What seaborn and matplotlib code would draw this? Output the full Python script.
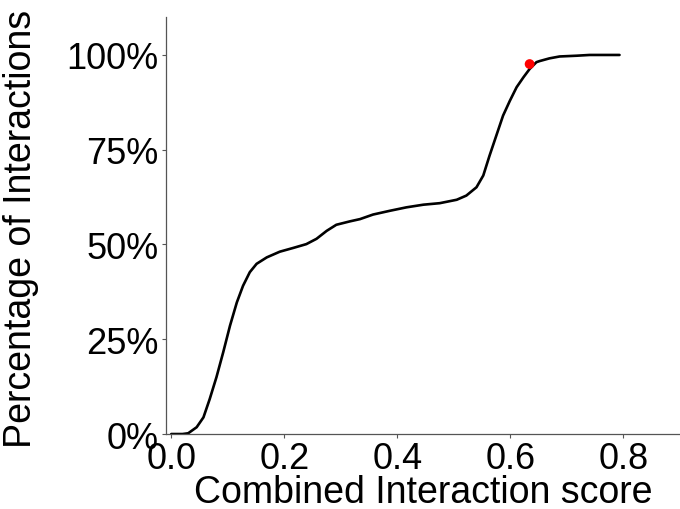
import numpy as np
import pandas as pd
import matplotlib
matplotlib.use("Agg")
import matplotlib.pyplot as plt
import seaborn as sns
from matplotlib.ticker import PercentFormatter

# Cumulative curve (score, % of interactions)
score = [0.0, 0.020, 0.030, 0.045, 0.057, 0.068, 0.080, 0.092, 0.104, 0.116,
         0.127, 0.139, 0.151, 0.169, 0.192, 0.216, 0.239, 0.257, 0.275, 0.292,
         0.316, 0.334, 0.357, 0.387, 0.416, 0.446, 0.475, 0.505, 0.522, 0.540,
         0.552, 0.563, 0.575, 0.587, 0.599, 0.611, 0.623, 0.634, 0.646, 0.652,
         0.669, 0.687, 0.717, 0.740, 0.770, 0.793]
percent = [0.0, 0.0, 0.2, 1.8, 4.4, 9.2, 15.0, 21.6, 28.6, 34.7,
           39.1, 42.7, 44.9, 46.6, 48.1, 49.1, 50.1, 51.5, 53.6, 55.2,
           56.1, 56.7, 57.9, 58.9, 59.8, 60.5, 60.9, 61.8, 62.9, 65.1,
           68.2, 73.4, 78.7, 84.0, 87.9, 91.5, 94.1, 96.3, 98.1, 98.4,
           99.1, 99.6, 99.8, 100.0, 100.0, 100.0]

marker_score = [0.634]
marker_percent = [97.6]

x_ticks = [0.0, 0.2, 0.4, 0.6, 0.8]
y_ticks = [0, 25, 50, 75, 100]

sns.set_theme(style="ticks")
plt.rcParams["font.family"] = ["Liberation Sans", "DejaVu Sans"]
plt.rcParams["text.color"] = "black"
plt.rcParams["axes.labelcolor"] = "black"

df = pd.DataFrame({"score": score, "percent": percent})

fig = plt.figure(figsize=(6.8, 5.1), dpi=100)
ax = fig.add_axes([0.2435, 0.147, 0.7565, 0.8176])

sns.lineplot(data=df, x="score", y="percent", color="black", linewidth=1.9, ax=ax)
sns.scatterplot(x=marker_score, y=marker_percent, color="red", s=50,
                edgecolor="none", zorder=5, ax=ax)

ax.set_xlim(-0.01, 0.9)
ax.set_ylim(0, 110)
ax.set_xticks(x_ticks)
ax.set_yticks(y_ticks)
ax.yaxis.set_major_formatter(PercentFormatter(decimals=0))
ax.tick_params(labelsize=26, length=3, width=0.8, color="#555555",
               labelcolor="black", pad=2)
ax.set_xlabel("Combined Interaction score", fontsize=27)
ax.set_ylabel("Percentage of Interactions", fontsize=27)
ax.xaxis.set_label_coords(0.5, -0.097)
ax.yaxis.set_label_coords(-0.246, 0.495)
for side in ["left", "bottom"]:
    ax.spines[side].set_color("#555555")
    ax.spines[side].set_linewidth(0.9)
sns.despine(ax=ax)

fig.savefig("out.png", dpi=100)
